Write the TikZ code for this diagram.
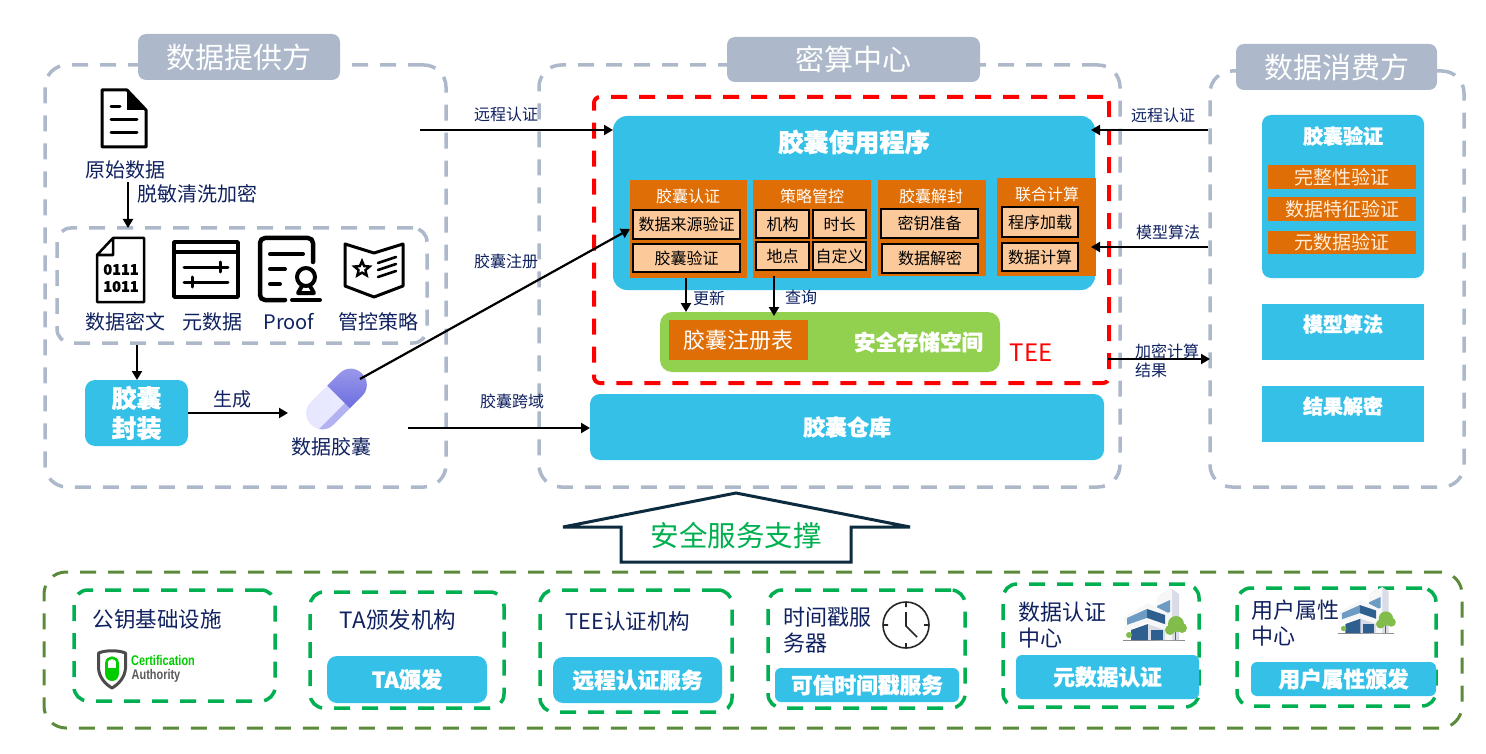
\documentclass[tikz,border=0pt]{standalone}
\usepackage{fontspec}
\setmainfont{Noto Sans CJK SC}[BoldFeatures={FakeBold=1.2}]
\newfontfamily\barfont{Liberation Sans}
\usetikzlibrary{arrows.meta}
\usetikzlibrary{shapes.geometric}
\definecolor{framegray}{HTML}{ADB9CA}
\definecolor{capblue}{HTML}{35C0E8}
\definecolor{capgreen}{HTML}{92D050}
\definecolor{caporange}{HTML}{DE6E05}
\definecolor{cappeach}{HTML}{FBC99A}
\definecolor{inknavy}{HTML}{10215F}
\definecolor{dashgreen}{HTML}{00B050}
\definecolor{dasholive}{HTML}{5B8A3A}
\definecolor{arrowteal}{HTML}{0D2B3E}
\definecolor{glasslight}{HTML}{6C9CC4}
\definecolor{glassdark}{HTML}{2F5F8E}
\definecolor{wallgray}{HTML}{D9DBE6}
\definecolor{leafgreen}{HTML}{82BC4A}
\newcommand{\fs}[2][26]{\fontsize{#2}{#1}\selectfont}
\tikzset{
    box/.style 2 args={minimum width=#1pt, minimum height=#2pt, inner sep=0pt, outer sep=0pt},
    dashframe/.style={draw=#1, dash pattern=on 16pt off 12pt, line width=3.5pt, rounded corners=14pt},
    titlebox/.style={fill=framegray, rounded corners=8pt, text=white, font=\fs{29}},
    bluebox/.style={fill=capblue, rounded corners=10pt, text=white, font=\fs{21.7}\bfseries},
    orangebox/.style={fill=caporange, text=white, inner sep=0pt},
    peachbox/.style={fill=cappeach, draw=black, line width=2.2pt, text=black, font=\fs{16}},
    lbl/.style={text=inknavy, inner sep=0pt, font=\fs{#1}},
    lbl/.default=20,
    flow/.style={-{Triangle[length=9pt,width=10pt]}, line width=2.2pt, black},
    iconline/.style={line width=#1pt, line cap=round, line join=round, black},
    iconline/.default=3,
    pics/officeicon/.style={code={
        \fill[black!45] (8,59.5) rectangle (70,60.5);
        \fill[wallgray] (45,15) -- (57,9) -- (64,14) -- (64,60) -- (45,60) -- cycle;
        \fill[white!94!gray] (42,17) -- (57,9) -- (57,60) -- (42,60) -- cycle;
        \fill[glasslight] (42,26) -- (55,20) -- (55,32) -- (42,37) -- cycle;
        \fill[white!94!gray] (9,37) -- (33,23) -- (53,33) -- (53,40) -- (33,32) -- (9,42) -- cycle;
        \fill[glasslight] (12,38) -- (32,29) -- (32,40) -- (12,46) -- cycle;
        \fill[glassdark] (32,29) -- (50,35) -- (50,46) -- (32,40) -- cycle;
        \fill[white!94!gray] (9,46) -- (32,38) -- (52,45) -- (52,49) -- (32,43) -- (9,50) -- cycle;
        \fill[glassdark] (16,50) -- (33,44) -- (33,60) -- (16,60) -- cycle;
        \fill[wallgray] (33,44) -- (50,50) -- (50,60) -- (33,60) -- cycle;
        \fill[glassdark] (36,50) rectangle (48,60);
        \fill[brown!70!black] (59.5,48) rectangle (61,60);
        \fill[leafgreen] (61,44) circle[radius=8pt] (67,48) circle[radius=5pt] (55,50) circle[radius=5pt] (14,55) circle[radius=3pt];
    }},
}
\begin{document}
\begin{tikzpicture}[x=1pt,y=-1pt]
    \useasboundingbox (0,0) rectangle (1486,754);
    % three panels
    \node[dashframe=framegray, rounded corners=22pt, box={401}{422}] (providerframe) at (245.5,276) {};
    \node[dashframe=framegray, rounded corners=22pt, box={581}{422}] (centerframe) at (829.5,276) {};
    \node[dashframe=framegray, rounded corners=22pt, box={254}{416}] (consumerframe) at (1337,279) {};
    \node[titlebox, box={202}{46}] (providertitle) at (239,57) {数据提供方};
    \node[titlebox, box={253}{45}] (centertitle) at (853.5,59.5) {密算中心};
    \node[titlebox, box={201}{46}] (consumertitle) at (1336.5,67) {数据消费方};

    % provider side
    \draw[iconline] (102,90) -- (127,90) -- (146,110) -- (146,147) -- (102,147) -- cycle;
    \fill[iconline=2] (127,90) -- (146,110) -- (127,110) -- cycle;
    \draw[iconline] (111,107) -- (120,107) (111,120) -- (137,120) (111,133) -- (137,133);
    \node[lbl] (rawdata) at (125,170) {原始数据};
    \node[lbl] (desens) at (197,194) {脱敏清洗加密};
    \node[dashframe=framegray, box={370}{115}] (bundleframe) at (242,285.5) {};
    \coordinate (rawout) at (128,182);
    \draw[flow] (rawout) -- (rawout |- bundleframe.north);

    \draw[iconline=2.5] (113,238) -- (144,238) -- (144,302) -- (97,302) -- (97,255) -- cycle (113,238) -- (113,255) -- (97,255);
    \node[inner sep=0pt, font={\fs[17]{14.5}\bfseries}, align=center] (bitsicon) at (121,278) {0111\\1011};
    \draw[iconline=3.5, line cap=butt] (174,242) rectangle (238,297) (174,252) -- (238,252);
    \draw[iconline=3] (184,267) -- (228,267) (220,262) -- (220,272) (184,282) -- (228,282) (192,277) -- (192,287);
    \draw[iconline=4.5, rounded corners=5pt] (313,262) -- (313,238) -- (260,238) -- (260,300) -- (285,300);
    \draw[iconline=4] (270,254) -- (303,254) (270,269) -- (285,269) (270,284) -- (280,284) (292,300) -- (320,300);
    \draw[iconline=4] (306,277) circle[radius=9pt] (302,286) -- (298,293) -- (314,293) -- (310,286);
    \draw[iconline=3] (345,244) -- (374,253) -- (403,244) -- (403,286) -- (374,297) -- (345,286) -- cycle;
    \draw[iconline=2.6] (378,263) -- (396,257) (378,270) -- (396,264) (378,277) -- (396,271);
    \node[star, star points=5, star point ratio=2.2, draw, line width=2.4pt, minimum size=16pt, inner sep=0pt] (policystar) at (362,269) {};
    \node[lbl] (cipherlabel) at (125,322) {数据密文};
    \node[lbl] (metalabel) at (212,322) {元数据};
    \node[lbl] (prooflabel) at (289,322) {Proof};
    \node[lbl] (policylabel) at (378,322) {管控策略};

    \node[bluebox, box={103}{66}, font={\fs[30]{25}\bfseries}, align=center] (sealbox) at (136.5,413) {胶囊\\封装};
    \coordinate (bundleout) at (137,345);
    \draw[flow] (bundleout) -- (bundleout |- sealbox.north);
    \coordinate (pillin) at (288,413);
    \draw[flow] (sealbox.east) -- (pillin);
    \node[lbl=19] (genlabel) at (232,399) {生成};
    \begin{scope}[shift={(336.5,399)}, rotate=45]
        \clip[rounded corners=15.5pt] (-36,-16) rectangle (36,16);
        \shade[left color=white!90!blue, right color=blue!8!white] (-36,-16) rectangle (3,16);
        \fill[blue!28!white!90!gray] (-36,9) rectangle (3,16);
        \shade[top color=blue!35!white!85!gray, bottom color=blue!60!white!75!gray] (3,-16) rectangle (36,16);
    \end{scope}
    \node[lbl] (capsulelabel) at (331,447) {数据胶囊};
    \coordinate (pillout) at (360,379);
    \coordinate (crossout) at (408,428);
    \coordinate (remoteout) at (420,130);

    % secure computing center
    \node[dashframe=red, rounded corners=6pt, line width=4pt, box={515}{286}] (teeframe) at (851.5,240) {};
    \node[bluebox, rounded corners=14pt, box={482}{174}] (appbox) at (854,203) {};
    \node[text=white, inner sep=0pt, font=\fs{25.3}\bfseries] (apptitle) at (854,142) {胶囊使用程序};

    \node[orangebox, box={117}{98}] (authbox) at (688.5,229) {};
    \node[orangebox, box={118}{98}] (rulebox) at (812,229) {};
    \node[orangebox, box={108}{96}] (decapbox) at (932,228) {};
    \node[orangebox, box={99}{98}] (jointbox) at (1046.5,227) {};
    \node[text=white, inner sep=0pt, font=\fs{16}] (authhead) at (688,196) {胶囊认证};
    \node[text=white, inner sep=0pt, font=\fs{16}] (rulehead) at (812,196) {策略管控};
    \node[text=white, inner sep=0pt, font=\fs{16}] (decaphead) at (931,196) {胶囊解封};
    \node[text=white, inner sep=0pt, font=\fs{16}] (jointhead) at (1047,194) {联合计算};
    \node[peachbox, box={107}{29}] (sourcecheck) at (686.5,224.5) {数据来源验证};
    \node[peachbox, box={107}{28}] (capcheck) at (686.5,258) {胶囊验证};
    \node[peachbox, box={53}{28}] (orgcell) at (782.5,224) {机构};
    \node[peachbox, box={53}{28}] (timecell) at (839.5,224) {时长};
    \node[peachbox, box={53}{28}] (sitecell) at (782.5,256) {地点};
    \node[peachbox, box={53}{28}] (customcell) at (839.5,256) {自定义};
    \node[peachbox, box={97}{29}] (keycell) at (929.5,223.5) {密钥准备};
    \node[peachbox, box={96}{29}] (decryptcell) at (930,258.5) {数据解密};
    \node[peachbox, box={76}{30}] (loadcell) at (1040,222) {程序加载};
    \node[peachbox, box={76}{28}] (computecell) at (1040,257) {数据计算};

    \node[fill=capgreen, rounded corners=12pt, box={340}{60}] (storebox) at (830,342) {};
    \node[fill=caporange, text=white, box={139}{40}, font=\fs{22}] (regbox) at (738.5,340) {胶囊注册表};
    \node[text=white, inner sep=0pt, font=\fs{21.5}\bfseries] (storelabel) at (918.5,342) {安全存储空间};
    \node[text=red, inner sep=0pt, font=\fs{24}] (teelabel) at (1031,353) {TEE};
    \coordinate (updateout) at (686,278);
    \coordinate (queryout) at (774,276);
    \draw[flow] (updateout) -- (updateout |- storebox.north);
    \draw[flow, shorten >=-4pt] (queryout) -- (queryout |- storebox.north);
    \node[lbl=16] (updatelabel) at (709,298) {更新};
    \node[lbl=16] (querylabel) at (801,297) {查询};

    \node[bluebox, box={514}{66}, font=\fs{22}\bfseries] (warehouse) at (847,427) {胶囊仓库};

    % links into the center
    \draw[flow] (remoteout) -- (remoteout -| appbox.west);
    \draw[flow] (pillout) -- (authbox.west);
    \draw[flow] (crossout) -- (crossout -| warehouse.west);
    \node[lbl=16] (remoteleft) at (506,114) {远程认证};
    \node[lbl=16] (regleft) at (506,261) {胶囊注册};
    \node[lbl=16] (crossleft) at (512,401) {胶囊跨域};

    % consumer side
    \node[fill=capblue, rounded corners=9pt, box={162}{163}] (verifybox) at (1343,196.5) {};
    \node[text=white, inner sep=0pt, font=\fs{20}\bfseries] (verifyhead) at (1343,136) {胶囊验证};
    \node[orangebox, box={148}{24}, font=\fs{19}, text=white!85!orange] (fullcheck) at (1342,177) {完整性验证};
    \node[orangebox, box={148}{24}, font=\fs{19}, text=white!85!orange] (featcheck) at (1342,209) {数据特征验证};
    \node[orangebox, box={148}{23}, font=\fs{19}, text=white!85!orange] (metacheck) at (1342,242.5) {元数据验证};
    \node[fill=capblue, box={162}{56}] (modelbox) at (1343,332) {};
    \node[text=white, inner sep=0pt, font=\fs{20}\bfseries] (modelhead) at (1343,324) {模型算法};
    \node[fill=capblue, box={162}{56}] (resultbox) at (1343,414) {};
    \node[text=white, inner sep=0pt, font=\fs{20}\bfseries] (resulthead) at (1343,406) {结果解密};
    \coordinate (remotein) at (1208,130);
    \coordinate (modelin) at (1208,247);
    \coordinate (resultout) at (1108,359);
    \coordinate (resultin) at (1210,359);
    \draw[flow, shorten >=-4pt] (remotein) -- (remotein -| appbox.east);
    \draw[flow, shorten >=-4pt] (modelin) -- (modelin -| appbox.east);
    \draw[flow] (resultout) -- (resultin);
    \node[lbl=16] (remoteright) at (1163,115) {远程认证};
    \node[lbl=16] (modelright) at (1168,232) {模型算法};
    \node[lbl=16, anchor=west] (resulta) at (1135,351) {加密计算};
    \node[lbl=16, anchor=west] (resultb) at (1135,370) {结果};

    % support arrow
    \draw[line width=3pt, arrowteal, line join=miter, fill=white] (736,493) -- (910,527) -- (851,527) -- (851,562) -- (621,562) -- (621,527) -- (563,527) -- cycle;
    \node[text=dashgreen, inner sep=0pt, font=\fs{28.5}] (supportlabel) at (736,536) {安全服务支撑};

    % services
    \node[dashframe=dasholive, line width=3pt, rounded corners=22pt, box={1418}{156}] (serviceframe) at (753,650) {};
    \node[dashframe=dashgreen, box={201}{111}] (pkiframe) at (174.5,645.5) {};
    \node[dashframe=dashgreen, box={194}{116}] (taframe) at (407,650) {};
    \node[dashframe=dashgreen, box={192}{122}] (attestframe) at (636,651) {};
    \node[dashframe=dashgreen, box={197}{118}] (timeframe) at (866.5,649) {};
    \node[dashframe=dashgreen, box={196}{123}] (dataframe) at (1101,645.5) {};
    \node[dashframe=dashgreen, box={199}{118}] (userframe) at (1336.5,647) {};

    \node[lbl=21.5] (pkilabel) at (157,619) {公钥基础设施};
    \draw[line width=3pt, black!70, line join=round] (98.5,653) .. controls (106,650) and (118,650) .. (125.5,653) -- (125.5,668) .. controls (125,677) and (119,684) .. (112,688) .. controls (105,684) and (99,677) .. (98.5,668) -- cycle;
    \fill[green!80!black] (105,668) rectangle (119,674);
    \fill[green!80!black] (105,673) -- (119,673) .. controls (119,678) and (116,681) .. (112,681) .. controls (108,681) and (105,678) .. (105,673) -- cycle;
    \draw[line width=2.6pt, green!80!black] (106.5,668) -- (106.5,663) .. controls (106.5,656) and (117.5,656) .. (117.5,663) -- (117.5,668);
    \node[text=green!80!black, inner sep=0pt, xscale=.78, transform shape, font=\fs{14}\barfont\bfseries] (certlabel) at (163,660) {Certification};
    \node[text=black!65, inner sep=0pt, xscale=.78, transform shape, font=\fs{14}\barfont\bfseries] (authlabel) at (156,676) {Authority};

    \node[lbl=22.5] (talabel) at (398,620) {TA颁发机构};
    \node[bluebox, box={160}{47}] (tabox) at (407,679.5) {TA颁发};
    \node[lbl=21.5] (attestlabel) at (628,621) {TEE认证机构};
    \node[bluebox, box={169}{46}] (attestbox) at (637.5,680) {远程认证服务};
    \node[lbl=22, anchor=west, align=left, font={\fs[26]{22}}] (timelabel) at (783,630) {时间戳服\\务器};
    \draw[line width=1.6pt, black!85] (906,625) circle[radius=23pt];
    \draw[line width=1.6pt, black!85] (906,602) -- (906,607) (906,648) -- (906,643) (883,625) -- (888,625) (929,625) -- (924,625) (906,612) -- (906,626) -- (917,637);
    \node[bluebox, rounded corners=6pt, box={184}{34}] (timebox) at (867,685) {可信时间戳服务};
    \node[lbl=22, anchor=west, align=left, font={\fs[26]{22}}] (datalabel) at (1018,625) {数据认证\\中心};
    \pic at (1115,580) {officeicon};
    \node[bluebox, rounded corners=6pt, box={183}{44}] (databox) at (1107.5,677) {元数据认证};
    \node[lbl=22, anchor=west, align=left, font={\fs[26]{22}}] (userlabel) at (1251,623) {用户属性\\中心};
    \pic[scale=.9] at (1331,579) {officeicon};
    \node[bluebox, rounded corners=6pt, box={185}{34}] (userbox) at (1343.5,679) {用户属性颁发};
\end{tikzpicture}
\end{document}
